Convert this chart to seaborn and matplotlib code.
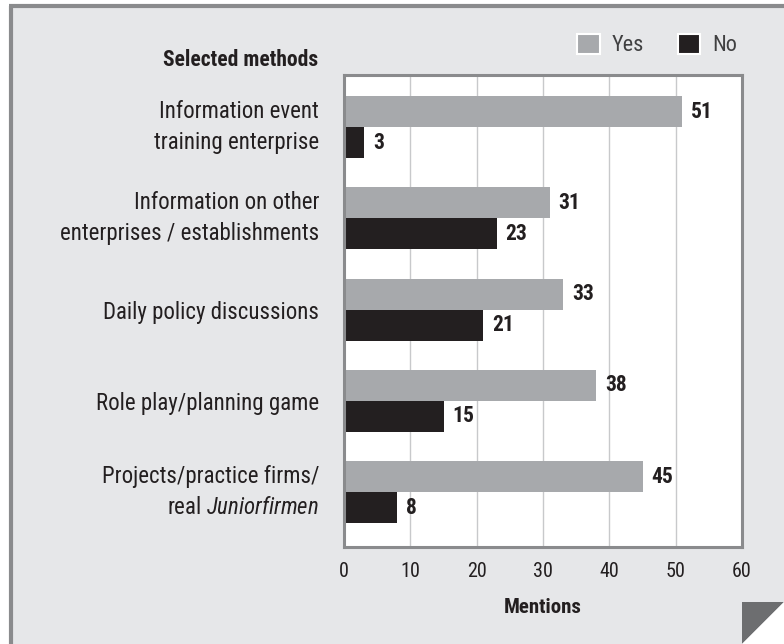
import matplotlib
matplotlib.use('Agg')
import matplotlib.pyplot as plt
import matplotlib.patches as mpatches
from matplotlib import font_manager
import pandas as pd
import seaborn as sns

# Chart data
methods = [
    'Information event\ntraining enterprise',
    'Information on other\nenterprises / establishments',
    'Daily policy discussions',
    'Role play/planning game',
    'Projects/practice firms/\nreal $\\it{Juniorfirmen}$',
]
yes_counts = [51, 31, 33, 38, 45]
no_counts = [3, 23, 21, 15, 8]
answers = ['Yes', 'No']
x_ticks = [0, 10, 20, 30, 40, 50, 60]

df = pd.DataFrame({
    'method': methods * 2,
    'answer': ['Yes'] * len(methods) + ['No'] * len(methods),
    'count': yes_counts + no_counts,
})

# Pick a narrow sans font if one is installed
fonts = font_manager.fontManager.ttflist
family, stretch = 'Roboto', 'normal'
narrow = [f for f in fonts if ('Narrow' in f.name or 'Condensed' in f.name
                               or str(f.stretch) in ('condensed', 'semi-condensed', 'extra-condensed',
                                                     '75', '87.5', '62.5'))
          and f.style == 'normal']
for pref in ['Liberation Sans Narrow', 'Roboto Condensed', 'Noto Sans', 'Open Sans', 'DejaVu Sans']:
    hit = [f for f in narrow if f.name.startswith(pref)]
    if hit:
        family, stretch = hit[0].name, hit[0].stretch
        break
if family == 'Roboto' and not any(f.name == 'Roboto' for f in fonts):
    family = 'DejaVu Sans'

sns.set_style('white')
plt.rcParams['font.family'] = [family, 'DejaVu Sans']
plt.rcParams['font.stretch'] = stretch
plt.rcParams['mathtext.fontset'] = 'custom'
plt.rcParams['mathtext.it'] = family + ':italic'
plt.rcParams['mathtext.rm'] = family

panel = '#e6e7e9'
yes_color = '#a7a9ac'
no_color = '#231f20'
edge = '#8a8b8d'
txt = '#231f20'

fig = plt.figure(figsize=(7.84, 6.44), dpi=100)
fig.patch.set_facecolor('white')
W, H = 784, 644

# background panel with left/top border
fig.add_artist(mpatches.Rectangle((9 / W, 0), 1 - 9 / W, 1 - 4 / H, transform=fig.transFigure,
                                  facecolor=panel, edgecolor='none', zorder=-10))
fig.add_artist(plt.Line2D([10.5 / W, 10.5 / W], [0, 1 - 5.5 / H], transform=fig.transFigure,
                          color=edge, lw=3, zorder=-9, solid_capstyle='butt'))
fig.add_artist(plt.Line2D([9 / W, 1], [1 - 5.5 / H, 1 - 5.5 / H], transform=fig.transFigure,
                          color=edge, lw=3, zorder=-9, solid_capstyle='butt'))
# folded corner
fig.add_artist(mpatches.Polygon([(742 / W, 42 / H), (1, 42 / H), (742 / W, 0)], closed=True,
                                transform=fig.transFigure, facecolor='#6d6e70', edgecolor='none'))
fig.add_artist(mpatches.Polygon([(1, 42 / H), (1, 0), (742 / W, 0)], closed=True,
                                transform=fig.transFigure, facecolor='white', edgecolor='none'))

ax = fig.add_axes([344 / W, 1 - 547 / H, (742 - 344) / W, (547 - 75) / H])
ax.set_facecolor('white')

sns.barplot(data=df, y='method', x='count', hue='answer', hue_order=answers,
            palette=[yes_color, no_color], orient='h', width=0.68, ax=ax,
            legend=False, saturation=1, edgecolor='none')

for cont in ax.containers:
    ax.bar_label(cont, padding=6.5, fontsize=15.5, fontweight='bold', color=txt)

ax.set_xlim(0, 60)
ax.set_ylim(4.6, -0.57)
ax.set_xticks(x_ticks)
ax.xaxis.grid(True, color='#c8c9cb', lw=1)
ax.yaxis.grid(False)
ax.set_axisbelow(True)
for s in ax.spines.values():
    s.set_visible(True)
    s.set_color(edge)
    s.set_linewidth(2.2)

ax.tick_params(axis='x', length=0, pad=11, labelsize=14.5, labelcolor=txt)
ax.tick_params(axis='y', length=0, pad=18, labelsize=16.5, labelcolor=txt)
for lab in ax.get_yticklabels():
    lab.set_horizontalalignment('right')
    lab.set_multialignment('right')
    lab.set_linespacing(1.45)
    if '\n' in lab.get_text():
        lab.set_verticalalignment('center')

ax.set_ylabel('')
ax.set_xlabel('Mentions', fontsize=15, fontweight='bold', color=txt, labelpad=12)

fig.text(318 / W, 1 - 60 / H, 'Selected methods', ha='right', va='center',
         fontsize=15.5, fontweight='bold', color=txt)

handles = [mpatches.Patch(facecolor=yes_color, edgecolor='white', lw=1.5, label='Yes'),
           mpatches.Patch(facecolor=no_color, edgecolor='white', lw=1.5, label='No')]
fig.legend(handles=handles, loc='center right', bbox_to_anchor=(748 / W, 1 - 45 / H),
           ncol=2, frameon=False, fontsize=16, handlelength=1.0, handleheight=1.0,
           handletextpad=0.55, columnspacing=1.5, borderpad=0, labelcolor='#404041')

fig.savefig('out.png', dpi=100)
